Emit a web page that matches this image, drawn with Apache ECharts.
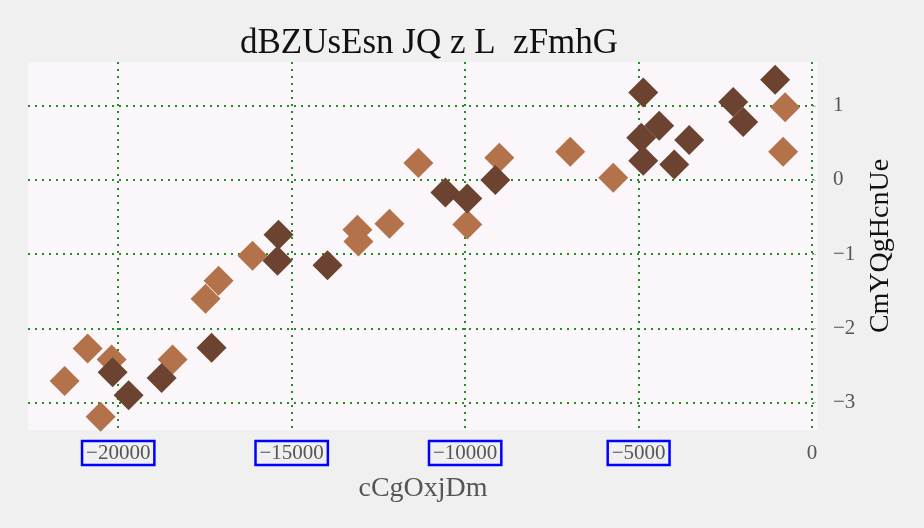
<!DOCTYPE html>
<html>
<head>
<meta charset="utf-8">
<script src="https://cdn.jsdelivr.net/npm/echarts@6/dist/echarts.min.js"></script>
<style>html,body{margin:0;padding:0;background:#f0f0f0;}#c{width:924px;height:528px;}</style>
</head>
<body>
<div id="c"></div>
<script>
const titleText = 'dBZUsEsn JQ z L  zFmhG';
const xName = 'cCgOxjDm';
const yName = 'CmYQgHcnUe';

const lightX = [-21544, -20881, -20507, -20190, -18433, -17483, -17108, -16129, -13105, -13076, -12183, -11348, -9937, -9015, -6970, -5732, -778, -835];
const lightY = [-2.71, -2.27, -3.19, -2.42, -2.42, -1.60, -1.36, -1.02, -0.67, -0.83, -0.59, 0.23, -0.60, 0.30, 0.38, 0.03, 0.98, 0.38];

const darkX = [-20161, -19700, -18749, -17309, -15380, -15408, -13968, -10570, -9937, -9130, -4867, -4407, -4925, -4867, -3542, -3974, -2275, -1987, -1066];
const darkY = [-2.59, -2.90, -2.67, -2.26, -0.74, -1.09, -1.15, -0.17, -0.25, 0.00, 1.18, 0.73, 0.57, 0.26, 0.54, 0.21, 1.05, 0.78, 1.35];

const xMin = -22600, xMax = 170;
const yMin = -3.37, yMax = 1.59;

const FONT = '"Liberation Serif", "DejaVu Serif", serif';
const minus = v => (v < 0 ? '\u2212' + Math.abs(v) : String(v));

const chart = echarts.init(document.getElementById('c'));
const grid = {left: 28, right: 106, top: 62, bottom: 98, show: true, backgroundColor: '#faf6f9', borderWidth: 0};
const gridLine = {show: true, showMinLine: false, showMaxLine: false, lineStyle: {color: '#1f8f1f', type: [2, 5], width: 2}};

chart.setOption({
  backgroundColor: '#f0f0f0',
  animation: false,
  title: {
    text: titleText, left: 424, textAlign: 'center', top: 21,
    textStyle: {fontFamily: FONT, fontSize: 35, fontWeight: 'normal', color: '#111'}
  },
  grid: grid,
  xAxis: {
    type: 'value', min: xMin, max: xMax,
    name: xName, nameLocation: 'middle', nameGap: 45,
    nameTextStyle: {fontFamily: FONT, fontSize: 28, color: '#555'},
    axisLine: {show: false}, axisTick: {show: false},
    splitLine: gridLine,
    axisLabel: {
      showMinLabel: false, showMaxLabel: false, margin: 11,
      fontFamily: FONT, fontSize: 21, color: '#555',
      formatter: v => v === 0 ? '{z|0}' : '{b|' + minus(v) + '}',
      rich: {
        b: {fontFamily: FONT, fontSize: 21, color: '#555', borderColor: '#0000ff', borderWidth: 2.5, padding: [2, 4, 1, 4]},
        z: {fontFamily: FONT, fontSize: 21, color: '#555', padding: [2, 4, 1, 4]}
      }
    }
  },
  yAxis: {
    type: 'value', min: yMin, max: yMax, position: 'right',
    name: yName, nameLocation: 'middle', nameGap: 48, nameRotate: 90,
    nameTextStyle: {fontFamily: FONT, fontSize: 28, color: '#111'},
    axisLine: {show: false},
    axisTick: {show: true, length: 4, lineStyle: {color: '#bbb'}},
    splitLine: gridLine,
    axisLabel: {showMinLabel: false, showMaxLabel: false, margin: 15, fontFamily: FONT, fontSize: 21, color: '#555', formatter: v => minus(v)}
  },
  series: [
    {type: 'scatter', symbol: 'diamond', symbolSize: 30, itemStyle: {color: '#b4724a', opacity: 1},
     data: lightX.map((x, i) => [x, lightY[i]])},
    {type: 'scatter', symbol: 'diamond', symbolSize: 30, itemStyle: {color: '#6b4330', opacity: 1},
     data: darkX.map((x, i) => [x, darkY[i]])}
  ]
});
</script>
</body>
</html>
